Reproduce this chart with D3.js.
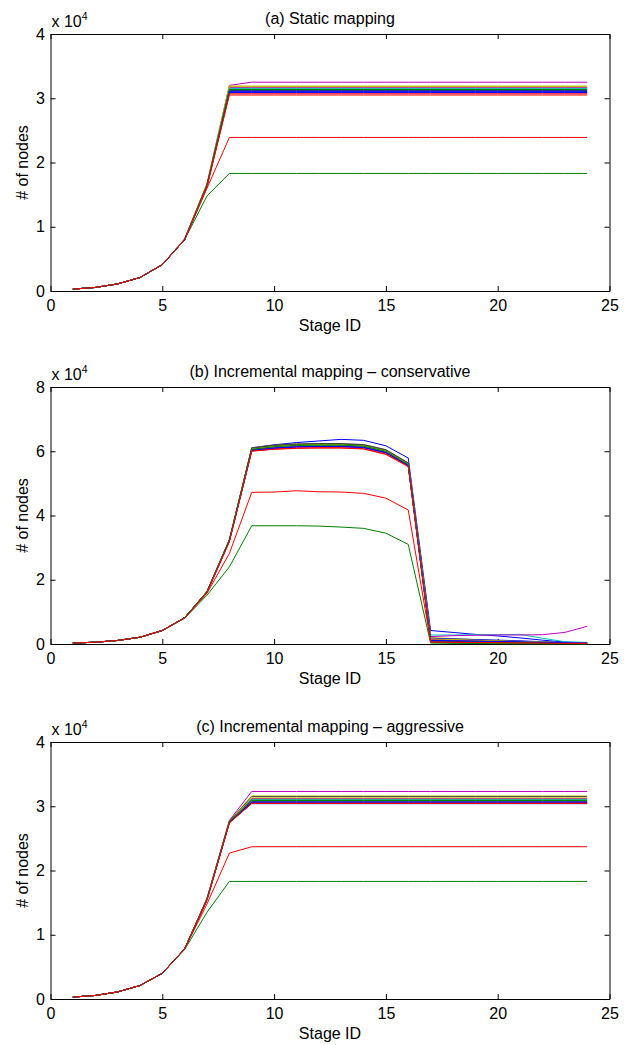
<!DOCTYPE html>
<html>
<head>
<meta charset="utf-8">
<script src="https://cdn.jsdelivr.net/npm/d3@7"></script>
<style>
  body { margin: 0; background: #fff; }
  svg { display: block; }
</style>
</head>
<body>
<div id="chart"></div>
<script>
"use strict";

const width = 631,
      height = 1045;

// stage ids on the x axis
const stages = [1,2,3,4,5,6,7,8,9,10,11,12,13,14,15,16,17,18,19,20,21,22,23,24];
const xTicks = [0,5,10,15,20,25];

// old matlab colour order, cycled over the runs
const colorOrder = ["#0000ff","#008000","#ff0000","#00bfbf","#bf00bf","#bfbf00","#404040"];

// node counts, in thousands, one row per run
const staticMapping = [
  [0.3,0.55,1.1,2.1,4.1,8.0,16.5, 31.0,31.0,31.0,31.0,31.0, 31.0,31.0,31.0,31.0,31.0, 31.0,31.0,31.0,31.0,31.0, 31.0,31.0],
  [0.3,0.55,1.1,2.1,4.1,8.0,14.8, 18.3,18.3,18.3,18.3,18.3, 18.3,18.3,18.3,18.3,18.3, 18.3,18.3,18.3,18.3,18.3, 18.3,18.3],
  [0.3,0.55,1.1,2.1,4.1,8.0,16.0, 23.9,23.9,23.9,23.9,23.9, 23.9,23.9,23.9,23.9,23.9, 23.9,23.9,23.9,23.9,23.9, 23.9,23.9],
  [0.3,0.55,1.1,2.1,4.1,8.1,16.6, 31.6,31.6,31.6,31.6,31.6, 31.6,31.6,31.6,31.6,31.6, 31.6,31.6,31.6,31.6,31.6, 31.6,31.6],
  [0.3,0.55,1.1,2.1,4.1,8.1,16.7, 32.0,32.5,32.5,32.5,32.5, 32.5,32.5,32.5,32.5,32.5, 32.5,32.5,32.5,32.5,32.5, 32.5,32.5],
  [0.3,0.55,1.1,2.1,4.1,8.0,16.6, 31.9,31.9,31.9,31.9,31.9, 31.9,31.9,31.9,31.9,31.9, 31.9,31.9,31.9,31.9,31.9, 31.9,31.9],
  [0.3,0.55,1.1,2.1,4.1,8.0,16.5, 31.2,31.2,31.2,31.2,31.2, 31.2,31.2,31.2,31.2,31.2, 31.2,31.2,31.2,31.2,31.2, 31.2,31.2],
  [0.3,0.55,1.1,2.1,4.1,8.0,16.4, 30.9,30.9,30.9,30.9,30.9, 30.9,30.9,30.9,30.9,30.9, 30.9,30.9,30.9,30.9,30.9, 30.9,30.9],
  [0.3,0.55,1.1,2.1,4.1,8.0,16.5, 31.4,31.4,31.4,31.4,31.4, 31.4,31.4,31.4,31.4,31.4, 31.4,31.4,31.4,31.4,31.4, 31.4,31.4],
  [0.3,0.55,1.1,2.1,4.1,8.0,16.3, 30.7,30.7,30.7,30.7,30.7, 30.7,30.7,30.7,30.7,30.7, 30.7,30.7,30.7,30.7,30.7, 30.7,30.7],
  [0.3,0.55,1.1,2.1,4.1,8.1,16.6, 31.5,31.5,31.5,31.5,31.5, 31.5,31.5,31.5,31.5,31.5, 31.5,31.5,31.5,31.5,31.5, 31.5,31.5],
  [0.3,0.55,1.1,2.1,4.1,8.1,16.6, 31.7,31.7,31.7,31.7,31.7, 31.7,31.7,31.7,31.7,31.7, 31.7,31.7,31.7,31.7,31.7, 31.7,31.7],
  [0.3,0.55,1.1,2.1,4.1,8.1,16.7, 31.8,31.8,31.8,31.8,31.8, 31.8,31.8,31.8,31.8,31.8, 31.8,31.8,31.8,31.8,31.8, 31.8,31.8],
  [0.3,0.55,1.1,2.1,4.1,8.0,16.5, 31.3,31.3,31.3,31.3,31.3, 31.3,31.3,31.3,31.3,31.3, 31.3,31.3,31.3,31.3,31.3, 31.3,31.3],
  [0.3,0.55,1.1,2.1,4.1,8.0,16.4, 31.1,31.1,31.1,31.1,31.1, 31.1,31.1,31.1,31.1,31.1, 31.1,31.1,31.1,31.1,31.1, 31.1,31.1],
  [0.3,0.55,1.1,2.1,4.1,8.0,16.5, 31.35,31.35,31.35,31.35,31.35, 31.35,31.35,31.35,31.35,31.35, 31.35,31.35,31.35,31.35,31.35, 31.35,31.35],
  [0.3,0.55,1.1,2.1,4.1,8.0,16.2, 30.5,30.5,30.5,30.5,30.5, 30.5,30.5,30.5,30.5,30.5, 30.5,30.5,30.5,30.5,30.5, 30.5,30.5]
];

const conservativeMapping = [
  [0.3,0.55,1.1,2.1,4.2,8.2, 16.2,32.2,61.1,62.0,62.7,63.2,63.7,63.4,61.7,57.9, 4.2,3.6,3.0,2.5,1.9,1.2,0.6,0.3],
  [0.3,0.55,1.1,2.1,4.1,8.0, 15.2,24.0,36.8,36.8,36.8,36.7,36.4,36.0,34.5,31.0, 0.3,0.2,0.15,0.1,0.08,0.06,0.05,0.04],
  [0.3,0.55,1.1,2.1,4.2,8.1, 15.8,28.2,47.2,47.3,47.7,47.4,47.3,46.9,45.4,41.7, 0.8,0.7,0.6,0.5,0.4,0.3,0.2,0.15],
  [0.3,0.55,1.1,2.1,4.2,8.2, 16.3,32.4,60.5,61.2,61.6,61.7,61.7,61.4,59.8,55.8, 2.8,2.8,2.9,2.9,3.0,1.8,0.7,0.5],
  [0.3,0.55,1.1,2.1,4.2,8.2, 16.2,32.3,60.7,61.5,61.9,62.0,62.0,61.7,60.1,56.0, 2.3,2.6,2.7,2.8,2.8,2.9,3.6,5.5],
  [0.3,0.55,1.1,2.1,4.2,8.2, 16.4,32.5,61.0,61.8,62.2,62.3,62.3,62.0,60.4,56.3, 2.0,1.7,1.4,1.1,0.8,0.6,0.4,0.3],
  [0.3,0.55,1.1,2.1,4.2,8.2, 16.3,32.4,60.9,61.7,62.1,62.2,62.2,61.9,60.3,56.2, 1.5,1.3,1.1,0.9,0.7,0.5,0.4,0.3],
  [0.3,0.55,1.1,2.1,4.2,8.2, 16.2,32.1,60.2,60.9,61.3,61.4,61.4,61.1,59.5,55.5, 1.8,1.6,1.4,1.2,1.0,0.7,0.5,0.3],
  [0.3,0.55,1.1,2.1,4.2,8.2, 16.3,32.3,60.8,61.6,62.0,62.1,62.1,61.8,60.2,56.1, 1.2,1.0,0.9,0.8,0.6,0.5,0.4,0.3],
  [0.3,0.55,1.1,2.1,4.2,8.2, 16.1,32.0,60.1,60.7,61.0,61.1,61.1,60.8,59.2,55.4, 0.9,0.8,0.7,0.6,0.5,0.4,0.3,0.2],
  [0.3,0.55,1.1,2.1,4.2,8.2, 16.3,32.3,60.6,61.3,61.7,61.8,61.8,61.5,59.9,55.9, 1.0,0.9,0.8,0.7,0.6,0.5,0.4,0.3],
  [0.3,0.55,1.1,2.1,4.2,8.2, 16.2,32.2,60.4,61.1,61.5,61.6,61.6,61.3,59.7,55.7, 1.4,1.2,1.0,0.9,0.7,0.5,0.4,0.3],
  [0.3,0.55,1.1,2.1,4.2,8.2, 16.3,32.4,60.8,61.5,61.9,62.0,62.0,61.7,60.1,56.0, 1.6,1.4,1.2,1.0,0.8,0.6,0.4,0.3],
  [0.3,0.55,1.1,2.1,4.2,8.2, 16.4,32.5,61.0,61.9,62.3,62.4,62.4,62.1,60.5,56.4, 0.9,0.8,0.7,0.6,0.5,0.4,0.3,0.2],
  [0.3,0.55,1.1,2.1,4.2,8.2, 16.2,32.1,60.3,61.0,61.4,61.5,61.5,61.2,59.6,55.6, 1.1,1.0,0.9,0.8,0.7,0.5,0.4,0.3],
  [0.3,0.55,1.1,2.1,4.2,8.2, 16.3,32.3,60.6,61.4,61.8,61.9,61.9,61.6,60.0,55.9, 0.5,0.4,0.35,0.3,0.25,0.2,0.15,0.1],
  [0.3,0.55,1.1,2.1,4.2,8.1, 16.0,31.8,60.0,60.6,60.9,61.0,61.0,60.7,59.0,55.2, 0.6,0.5,0.45,0.4,0.35,0.3,0.2,0.15]
];

const aggressiveMapping = [
  [0.3,0.55,1.1,2.1,4.0,7.8,15.5, 27.5, 30.4,30.4,30.4,30.4, 30.4,30.4,30.4,30.4, 30.4,30.4,30.4,30.4, 30.4,30.4,30.4,30.4],
  [0.3,0.55,1.1,2.1,4.0,7.7,13.5, 18.3, 18.3,18.3,18.3,18.3, 18.3,18.3,18.3,18.3, 18.3,18.3,18.3,18.3, 18.3,18.3,18.3,18.3],
  [0.3,0.55,1.1,2.1,4.0,7.8,14.8, 22.7, 23.7,23.7,23.7,23.7, 23.7,23.7,23.7,23.7, 23.7,23.7,23.7,23.7, 23.7,23.7,23.7,23.7],
  [0.3,0.55,1.1,2.1,4.0,7.8,15.6, 27.6, 30.9,30.9,30.9,30.9, 30.9,30.9,30.9,30.9, 30.9,30.9,30.9,30.9, 30.9,30.9,30.9,30.9],
  [0.3,0.55,1.1,2.1,4.0,7.8,15.7, 27.8, 32.3,32.3,32.3,32.3, 32.3,32.3,32.3,32.3, 32.3,32.3,32.3,32.3, 32.3,32.3,32.3,32.3],
  [0.3,0.55,1.1,2.1,4.0,7.8,15.6, 27.7, 31.6,31.6,31.6,31.6, 31.6,31.6,31.6,31.6, 31.6,31.6,31.6,31.6, 31.6,31.6,31.6,31.6],
  [0.3,0.55,1.1,2.1,4.0,7.8,15.6, 27.7, 31.5,31.5,31.5,31.5, 31.5,31.5,31.5,31.5, 31.5,31.5,31.5,31.5, 31.5,31.5,31.5,31.5],
  [0.3,0.55,1.1,2.1,4.0,7.8,15.5, 27.5, 30.6,30.6,30.6,30.6, 30.6,30.6,30.6,30.6, 30.6,30.6,30.6,30.6, 30.6,30.6,30.6,30.6],
  [0.3,0.55,1.1,2.1,4.0,7.8,15.6, 27.6, 31.1,31.1,31.1,31.1, 31.1,31.1,31.1,31.1, 31.1,31.1,31.1,31.1, 31.1,31.1,31.1,31.1],
  [0.3,0.55,1.1,2.1,4.0,7.8,15.4, 27.4, 30.5,30.5,30.5,30.5, 30.5,30.5,30.5,30.5, 30.5,30.5,30.5,30.5, 30.5,30.5,30.5,30.5],
  [0.3,0.55,1.1,2.1,4.0,7.8,15.6, 27.6, 31.0,31.0,31.0,31.0, 31.0,31.0,31.0,31.0, 31.0,31.0,31.0,31.0, 31.0,31.0,31.0,31.0],
  [0.3,0.55,1.1,2.1,4.0,7.8,15.5, 27.6, 31.2,31.2,31.2,31.2, 31.2,31.2,31.2,31.2, 31.2,31.2,31.2,31.2, 31.2,31.2,31.2,31.2],
  [0.3,0.55,1.1,2.1,4.0,7.8,15.6, 27.6, 31.3,31.3,31.3,31.3, 31.3,31.3,31.3,31.3, 31.3,31.3,31.3,31.3, 31.3,31.3,31.3,31.3],
  [0.3,0.55,1.1,2.1,4.0,7.8,15.5, 27.5, 30.7,30.7,30.7,30.7, 30.7,30.7,30.7,30.7, 30.7,30.7,30.7,30.7, 30.7,30.7,30.7,30.7],
  [0.3,0.55,1.1,2.1,4.0,7.8,15.5, 27.5, 30.65,30.65,30.65,30.65, 30.65,30.65,30.65,30.65, 30.65,30.65,30.65,30.65, 30.65,30.65,30.65,30.65],
  [0.3,0.55,1.1,2.1,4.0,7.8,15.6, 27.6, 30.9,30.9,30.9,30.9, 30.9,30.9,30.9,30.9, 30.9,30.9,30.9,30.9, 30.9,30.9,30.9,30.9],
  [0.3,0.55,1.1,2.1,4.0,7.8,15.4, 27.4, 30.45,30.45,30.45,30.45, 30.45,30.45,30.45,30.45, 30.45,30.45,30.45,30.45, 30.45,30.45,30.45,30.45]
];

const titles = ["(a) Static mapping",
                "(b) Incremental mapping \u2013 conservative",
                "(c) Incremental mapping \u2013 aggressive"];
const yMaxes = [40, 80, 40];
const yTickSets = [[0,10,20,30,40], [0,20,40,60,80], [0,10,20,30,40]];
const allRuns = [staticMapping, conservativeMapping, aggressiveMapping];

// layout
const left = 50.5,
      right = 609.5,
      panelTops = [34, 387, 742],
      panelH = 257;
const font = "'Liberation Sans', Arial, Helvetica, sans-serif";

const svg = d3.select("#chart")
  .append("svg")
  .attr("width", width)
  .attr("height", height)
  .style("background", "#fff");

const x = d3.scaleLinear()
  .domain([0, 25])
  .range([left, right]);

allRuns.forEach(function(runs, i) {
  const top = panelTops[i],
        bottom = top + panelH;

  const y = d3.scaleLinear()
    .domain([0, yMaxes[i]])
    .range([bottom, top]);

  const g = svg.append("g");

  const line = d3.line()
    .x(function(d, j) { return x(stages[j]); })
    .y(function(d) { return y(d); });

  // box with inward ticks on all four sides
  const styleAxis = function(sel) {
    sel.attr("font-size", 16).attr("font-family", font);
    sel.selectAll("path, line").attr("stroke", "#000").attr("stroke-width", 1);
    sel.selectAll("text").attr("fill", "#000");
  };

  g.append("g")
    .attr("transform", `translate(0,${bottom})`)
    .call(d3.axisBottom(x).tickValues(xTicks).tickSize(-5).tickSizeOuter(0).tickPadding(8.5))
    .call(styleAxis);

  g.append("g")
    .attr("transform", `translate(0,${top})`)
    .call(d3.axisTop(x).tickValues(xTicks).tickSize(-5).tickSizeOuter(0).tickFormat(""))
    .call(styleAxis);

  g.append("g")
    .attr("transform", `translate(${left},0)`)
    .call(d3.axisLeft(y).tickValues(yTickSets[i]).tickSize(-5).tickSizeOuter(0).tickPadding(5.5)
      .tickFormat(function(d) { return d / 10; }))
    .call(styleAxis);

  g.append("g")
    .attr("transform", `translate(${right},0)`)
    .call(d3.axisRight(y).tickValues(yTickSets[i]).tickSize(-5).tickSizeOuter(0).tickFormat(""))
    .call(styleAxis);

  g.selectAll("path.run")
    .data(runs)
    .join("path")
      .attr("class", "run")
      .attr("d", line)
      .attr("fill", "none")
      .attr("stroke", function(d, j) { return colorOrder[j % colorOrder.length]; })
      .attr("stroke-width", 1);

  g.append("text")
    .attr("x", (left + right) / 2)
    .attr("y", top - 10)
    .attr("text-anchor", "middle")
    .attr("font-family", font)
    .attr("font-size", 16)
    .text(titles[i]);

  const exp = g.append("text")
    .attr("x", left + 1)
    .attr("y", top - 7)
    .attr("font-family", font)
    .attr("font-size", 16)
    .text("x 10");
  exp.append("tspan")
    .attr("dy", -7)
    .attr("font-size", 10.5)
    .text("4");

  g.append("text")
    .attr("transform", `translate(28,${top + panelH / 2}) rotate(-90)`)
    .attr("text-anchor", "middle")
    .attr("font-family", font)
    .attr("font-size", 16)
    .text("# of nodes");

  g.append("text")
    .attr("x", (left + right) / 2)
    .attr("y", bottom + 40)
    .attr("text-anchor", "middle")
    .attr("font-family", font)
    .attr("font-size", 16)
    .text("Stage ID");
});
</script>
</body>
</html>
